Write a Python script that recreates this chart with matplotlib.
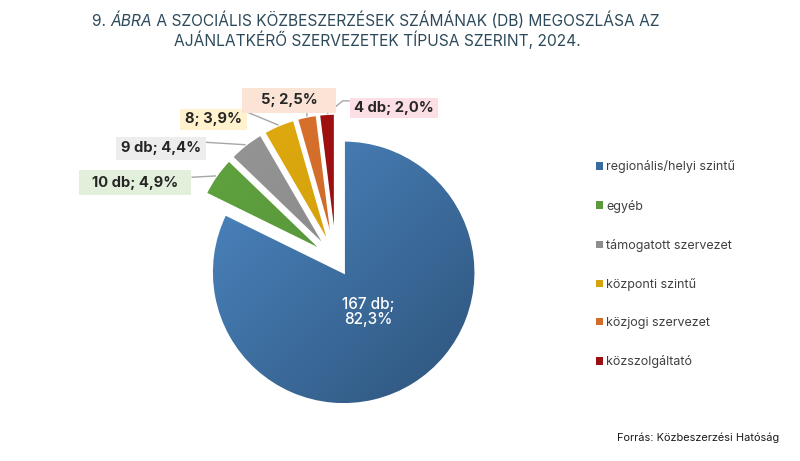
import matplotlib
matplotlib.use("Agg")
import matplotlib.pyplot as plt
import numpy as np
from matplotlib.colors import to_rgb
from matplotlib.patches import Rectangle

plt.rcParams['font.family'] = ['Inter', 'DejaVu Sans']

categories = ["regionális/helyi szintű", "egyéb", "támogatott szervezet",
              "központi szintű", "közjogi szervezet", "közszolgáltató"]
counts = [167, 10, 9, 8, 5, 4]
labels = ["167 db;\n82,3%", "10 db; 4,9%", "9 db; 4,4%", "8; 3,9%", "5; 2,5%", "4 db; 2,0%"]
colors = ["#3a6b9d", "#5b9a3c", "#8e8e8e", "#d6a30d", "#d16c2b", "#9b0f10"]
box_colors = [None, "#e2efda", "#ededed", "#fff2cc", "#fbe4d6", "#fbdfe4"]
# label positions (layout, data units relative to pie centre)
label_pos = [(0.242, -0.394), (-1.52, 0.585), (-1.326, 0.848), (-0.928, 1.065), (-0.356, 1.212), (0.44, 1.148)]
# box padding per label (px)
box_padx = [0, 13, 5, 5, 19, 4.5]
box_pady = [0, 5.5, 4.5, 3.5, 5.5, 3]
# where leader line meets the label box (relative box coords) and elbow length (px)
anchor_rel = [None, (1, 0.72), (1, 0.75), (1, 0.85), (0.69, 0), (0, 0.88)]
elbow_px = [0, 0, 0, 0, 0, 7]

W, H = 800, 461
fig = plt.figure(figsize=(8, 4.61), dpi=100)
cx, cy, R = 336, 461 - 260, 132
ax = fig.add_axes([(cx - 2 * R) / W, (cy - 1.5 * R) / H, 4 * R / W, 3 * R / H])

wedges, _ = ax.pie(counts, colors=colors, startangle=90, counterclock=False,
                   explode=[0.11] * len(counts), radius=1.0,
                   wedgeprops=dict(edgecolor='white', linewidth=1.8), center=(0, 0))
ax.set_xlim(-2, 2)
ax.set_ylim(-1.5, 1.5)
ax.axis('off')

# gradient on wedges (light top-left, dark bottom-right)
for k, (w, c) in enumerate(zip(wedges, colors)):
    base = np.array(to_rgb(c))
    if k == 0:
        light = np.clip(base * 1.2 + 0.03, 0, 1)
        dark = base * 0.78
    else:
        light = np.clip(base * 1.06, 0, 1)
        dark = base * 0.92
    n = 200
    xx, yy = np.meshgrid(np.linspace(0, 1, n), np.linspace(0, 1, n))
    t = (xx + yy) / 2
    img = light[None, None, :] * (1 - t[..., None]) + dark[None, None, :] * t[..., None]
    wx, wy = w.center
    im = ax.imshow(img, extent=(wx - 1, wx + 1, wy - 1, wy + 1), origin='upper',
                   zorder=1, interpolation='bilinear')
    im.set_clip_path(w)
    w.set_facecolor('none')
    w.set_zorder(1.5)
ax.set_xlim(-2, 2)
ax.set_ylim(-1.5, 1.5)

# labels
fig.canvas.draw()
r = fig.canvas.get_renderer()
inv = ax.transData.inverted()
for i, (w, lab) in enumerate(zip(wedges, labels)):
    lx, ly = label_pos[i]
    if i == 0:
        ax.text(lx, ly, lab, color='white', fontsize=11, ha='center', va='center',
                fontweight='medium', linespacing=1.05, zorder=5)
        continue
    t = ax.text(lx, ly, lab, ha='center', va='center', fontsize=10.6,
                fontweight='bold', color='#262626', zorder=6)
    bb = t.get_window_extent(r)
    x0, y0 = bb.x0 - box_padx[i], bb.y0 - box_pady[i]
    x1, y1 = bb.x1 + box_padx[i], bb.y1 + box_pady[i]
    (dx0, dy0) = inv.transform((x0, y0))
    (dx1, dy1) = inv.transform((x1, y1))
    ax.add_patch(Rectangle((dx0, dy0), dx1 - dx0, dy1 - dy0, fc=box_colors[i],
                           ec='none', zorder=5))
    ang = np.deg2rad((w.theta1 + w.theta2) / 2)
    wx, wy = w.center
    px, py = wx + w.r * np.cos(ang), wy + w.r * np.sin(ang)
    ar = anchor_rel[i]
    axp = x0 + ar[0] * (x1 - x0)
    ayp = y0 + ar[1] * (y1 - y0)
    pts = [(axp, ayp)]
    if elbow_px[i]:
        pts.append((axp - elbow_px[i], ayp))
    pts = [tuple(inv.transform(p)) for p in pts] + [(px, py)]
    xs, ys = zip(*pts)
    ax.plot(xs, ys, color='#a6a6a6', lw=1.0, zorder=4, solid_capstyle='butt')

# legend
leg = fig.legend(wedges, categories, loc='upper left',
                 bbox_to_anchor=(585 / W, 1 - 149 / H), frameon=False,
                 fontsize=9, labelcolor='#404040', handlelength=0.55, handleheight=0.55,
                 handletextpad=0.25, labelspacing=2.1)
for h, c in zip(leg.legend_handles, colors):
    h.set_facecolor(c)
    h.set_edgecolor('none')

# title with italic part
title_color = '#2d4a5b'
parts = [("9. ", 'normal'), ("ÁBRA", 'italic'),
         (" A SZOCIÁLIS KÖZBESZERZÉSEK SZÁMÁNAK (DB) MEGOSZLÁSA AZ", 'normal')]
texts = []
total = 0
for s, st in parts:
    t = fig.text(0, 0, s, fontsize=11.2, style=st, color=title_color)
    bb = t.get_window_extent(r)
    texts.append((t, bb.width))
    total += bb.width
x0 = 376 - total / 2
for t, wdt in texts:
    t.set_position((x0 / W, 1 - 26 / H))
    x0 += wdt
fig.text(377 / W, 1 - 46 / H, "AJÁNLATKÉRŐ SZERVEZETEK TÍPUSA SZERINT, 2024.",
         fontsize=11.2, color=title_color, ha='center')

fig.text(779 / W, 1 - 438 / H, "Forrás: Közbeszerzési Hatóság", ha='right', va='center',
         fontsize=7.9, color='#1a1a1a')

fig.savefig("out.png", dpi=100, facecolor='white')
